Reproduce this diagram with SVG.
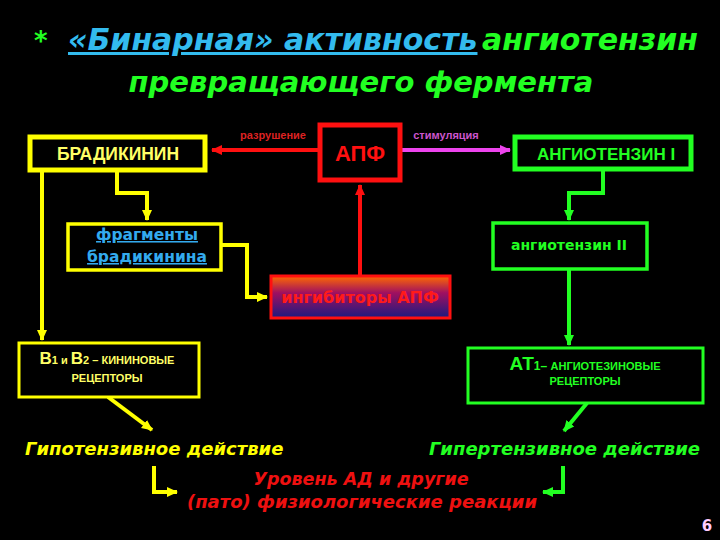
<svg xmlns="http://www.w3.org/2000/svg" width="720" height="540" viewBox="0 0 720 540">
<defs>
<style>
.t{font-family:"DejaVu Sans",Verdana,sans-serif;font-weight:bold}
.a{font-family:"Liberation Sans",Arial,sans-serif;font-weight:bold}
.it{font-family:"DejaVu Sans",Verdana,sans-serif;font-weight:bold;font-style:italic}
.box{fill:#000}
.ln{fill:none;stroke-width:4}
</style>
<linearGradient id="gr" x1="0" y1="0" x2="0" y2="1">
<stop offset="0" stop-color="#ff6a00"/>
<stop offset="0.4" stop-color="#a01060"/>
<stop offset="1" stop-color="#1a1a80"/>
</linearGradient>
<marker id="my" markerUnits="userSpaceOnUse" markerWidth="12" markerHeight="12" refX="10" refY="6" orient="auto"><path d="M0,1 L11,6 L0,11 Z" fill="#ffff00"/></marker>
<marker id="mg" markerUnits="userSpaceOnUse" markerWidth="12" markerHeight="12" refX="10" refY="6" orient="auto"><path d="M0,1 L11,6 L0,11 Z" fill="#22ff22"/></marker>
<marker id="mr" markerUnits="userSpaceOnUse" markerWidth="12" markerHeight="12" refX="10" refY="6" orient="auto"><path d="M0,1 L11,6 L0,11 Z" fill="#ff1010"/></marker>
<marker id="mm" markerUnits="userSpaceOnUse" markerWidth="12" markerHeight="12" refX="10" refY="6" orient="auto"><path d="M0,1 L11,6 L0,11 Z" fill="#ee44ee"/></marker>
</defs>
<rect width="720" height="540" fill="#000"/>

<g id="title">
<text x="34" y="50" class="it" font-size="26" fill="#22ff22">*</text>
<text x="68" y="50" class="it" font-size="30" fill="#33bbee" text-decoration="underline">«Бинарная» активность</text>
<text x="482" y="50" class="it" font-size="30" fill="#22ff22">ангиотензин</text>
<text x="361" y="92" class="it" font-size="29" fill="#22ff22" text-anchor="middle">превращающего фермента</text>
</g>

<g id="connectors">
<path class="ln" stroke="#ff1010" d="M318,150 H212" marker-end="url(#mr)"/>
<path class="ln" stroke="#ff1010" d="M360,275 V185" marker-end="url(#mr)"/>
<path class="ln" stroke="#ee44ee" d="M402,150 H510" marker-end="url(#mm)"/>
<path class="ln" stroke="#ffff00" d="M117,172 V193 H147 V220" marker-end="url(#my)"/>
<path class="ln" stroke="#ffff00" d="M42,172 V340" marker-end="url(#my)"/>
<path class="ln" stroke="#ffff00" d="M222,245 H247 V297 H267" marker-end="url(#my)"/>
<path class="ln" stroke="#ffff00" d="M108,397 L152,430" marker-end="url(#my)"/>
<path class="ln" stroke="#22ff22" d="M603,171 V193 H569 V220" marker-end="url(#mg)"/>
<path class="ln" stroke="#22ff22" d="M569,270 V345" marker-end="url(#mg)"/>
<path class="ln" stroke="#22ff22" d="M587,403 L564,431" marker-end="url(#mg)"/>
<path class="ln" stroke="#ffff00" d="M154,466 V492 H177" marker-end="url(#my)"/>
<path class="ln" stroke="#22ff22" d="M563,466 V492 H543" marker-end="url(#mg)"/>
<text x="273" y="139" class="a" font-size="11" fill="#dd2222" text-anchor="middle">разрушение</text>
<text x="446" y="139" class="a" font-size="11" fill="#cc55cc" text-anchor="middle">стимуляция</text>
</g>

<g id="bradykinin">
<rect x="30" y="137" width="175" height="33" class="box" stroke="#ffff00" stroke-width="5"/>
<text x="118" y="160" class="a" font-size="17.5" fill="#ffff66" text-anchor="middle">БРАДИКИНИН</text>
</g>

<g id="apf">
<rect x="320" y="125" width="80" height="55" class="box" stroke="#ff1010" stroke-width="5"/>
<text x="360" y="161" class="a" font-size="22" fill="#ff1010" text-anchor="middle">АПФ</text>
</g>

<g id="angiotensin1">
<rect x="515" y="137" width="176" height="32" class="box" stroke="#22ff22" stroke-width="5"/>
<text x="606" y="160" class="a" font-size="17" fill="#22ff22" text-anchor="middle">АНГИОТЕНЗИН I</text>
</g>

<g id="fragments">
<rect x="68" y="224" width="153" height="46" class="box" stroke="#ffff00" stroke-width="3.5"/>
<text x="147" y="240" class="t" font-size="15.5" fill="#33aaee" text-anchor="middle" text-decoration="underline">фрагменты</text>
<text x="147" y="262" class="t" font-size="15.5" fill="#33aaee" text-anchor="middle" text-decoration="underline">брадикинина</text>
</g>

<g id="angiotensin2">
<rect x="493" y="223" width="154" height="46" class="box" stroke="#22ff22" stroke-width="3.5"/>
<text x="569" y="250" class="t" font-size="14" fill="#22ff22" text-anchor="middle">ангиотензин II</text>
</g>

<g id="inhibitors">
<rect x="271" y="276" width="179" height="42" fill="url(#gr)" stroke="#ff1010" stroke-width="3"/>
<text x="360" y="303" class="t" font-size="16" fill="#ff1a1a" text-anchor="middle">ингибиторы АПФ</text>
</g>

<g id="b-receptors">
<rect x="19" y="343" width="180" height="54" class="box" stroke="#ffff00" stroke-width="3"/>
<text x="107" y="364" class="a" fill="#ffff66" text-anchor="middle"><tspan font-size="17">В</tspan><tspan font-size="11">1 и </tspan><tspan font-size="17">В</tspan><tspan font-size="11">2 – КИНИНОВЫЕ</tspan></text>
<text x="107" y="382" class="a" font-size="11" fill="#ffff66" text-anchor="middle">РЕЦЕПТОРЫ</text>
</g>

<g id="at1-receptors">
<rect x="468" y="348" width="235" height="55" class="box" stroke="#22ff22" stroke-width="3"/>
<text x="585" y="370" class="a" fill="#22ff22" text-anchor="middle"><tspan font-size="19">АТ</tspan><tspan font-size="12">1– </tspan><tspan font-size="11">АНГИОТЕЗИНОВЫЕ</tspan></text>
<text x="585" y="385" class="a" font-size="11" fill="#22ff22" text-anchor="middle">РЕЦЕПТОРЫ</text>
</g>

<g id="hypotensive">
<text x="25" y="455" class="it" font-size="18" fill="#ffff00">Гипотензивное действие</text>
</g>
<g id="hypertensive">
<text x="700" y="455" class="it" font-size="18" fill="#22ff22" text-anchor="end">Гипертензивное действие</text>
</g>
<g id="bp-level">
<text x="361" y="485" class="it" font-size="17.5" fill="#ee1010" text-anchor="middle">Уровень АД и другие</text>
<text x="362" y="508" class="it" font-size="18" fill="#ee1010" text-anchor="middle">(пато) физиологические реакции</text>
</g>
<text x="707" y="531" class="t" font-size="15" fill="#ffccff" text-anchor="middle">6</text>
</svg>
